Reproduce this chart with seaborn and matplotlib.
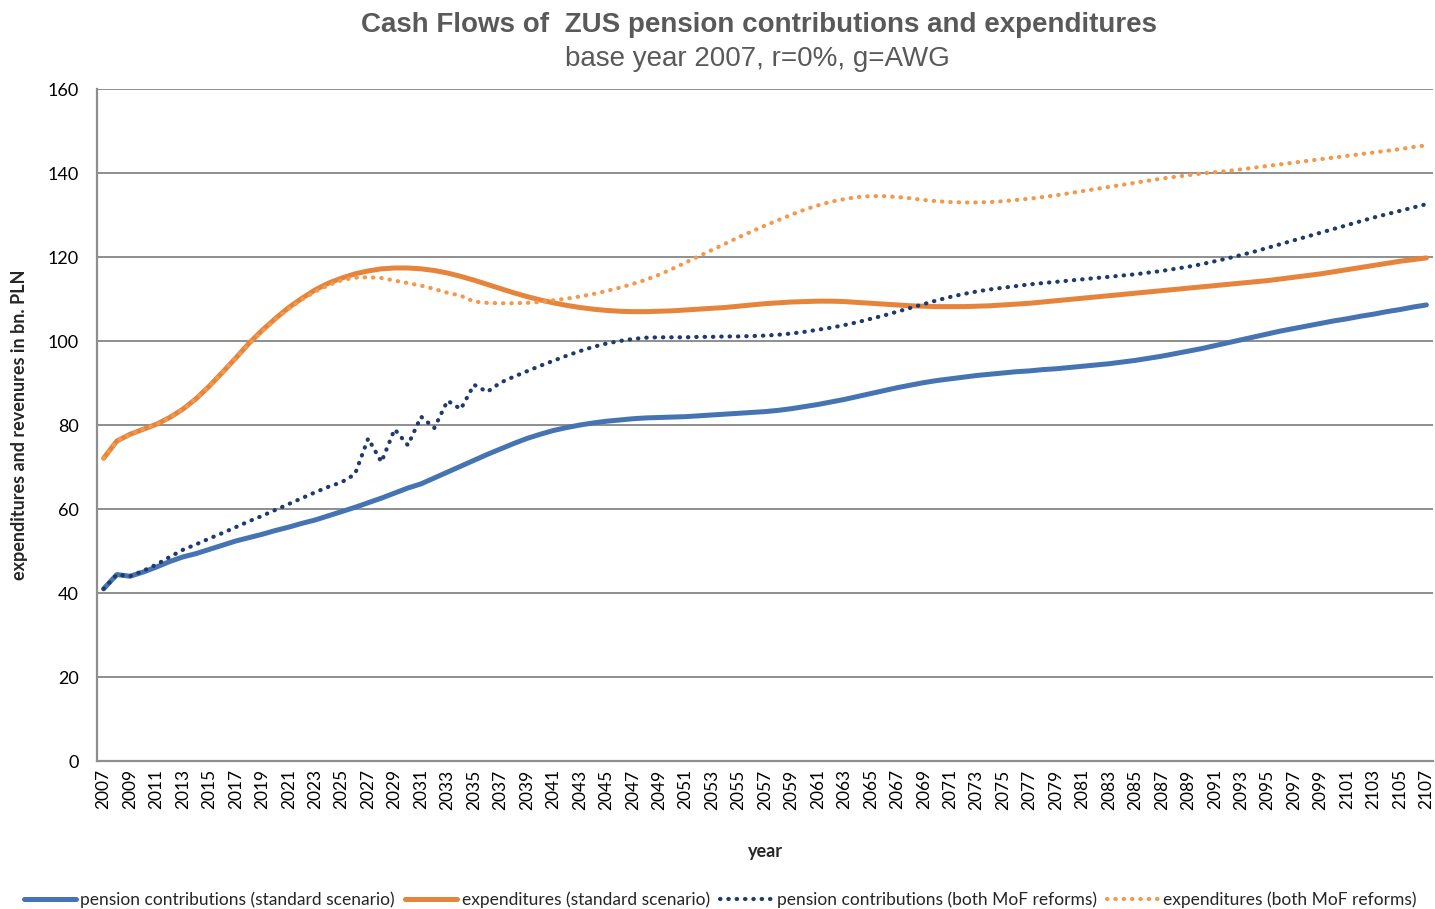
import numpy as np
import pandas as pd
import matplotlib
matplotlib.use('Agg')
import matplotlib.pyplot as plt
import seaborn as sns

sns.set_style('white')
plt.rcParams['font.family'] = ['Lato', 'DejaVu Sans']

years = np.arange(2007, 2108)

# pension contributions, standard scenario
contrib_std = [
    41.0, 44.4, 44.0, 45.0, 46.2, 47.5, 48.6, 49.4, 50.4, 51.4,
    52.4, 53.2, 54.0, 54.9, 55.7, 56.6, 57.4, 58.4, 59.4, 60.4,
    61.5, 62.6, 63.8, 65.0, 66.0, 67.4, 68.8, 70.2, 71.6, 73.0,
    74.3, 75.6, 76.8, 77.8, 78.7, 79.4, 80.0, 80.5, 80.9, 81.2,
    81.5, 81.7, 81.8, 81.9, 82.0, 82.2, 82.4, 82.6, 82.8, 83.0,
    83.2, 83.5, 83.9, 84.4, 84.9, 85.5, 86.1, 86.8, 87.5, 88.2,
    88.9, 89.5, 90.1, 90.6, 91.0, 91.4, 91.8, 92.1, 92.4, 92.7,
    92.9, 93.2, 93.4, 93.7, 94.0, 94.3, 94.6, 95.0, 95.4, 95.9,
    96.4, 97.0, 97.6, 98.2, 98.9, 99.6, 100.3, 101.0, 101.7, 102.4,
    103.0, 103.6, 104.2, 104.8, 105.3, 105.9, 106.4, 107.0, 107.5, 108.1,
    108.6,
]

# expenditures, standard scenario
expend_std = [
    72.1, 76.2, 77.8, 79.0, 80.2, 81.8, 83.8, 86.3, 89.3, 92.6,
    96.0, 99.5, 102.6, 105.4, 108.0, 110.2, 112.2, 113.8, 115.0, 116.0,
    116.7, 117.2, 117.4, 117.4, 117.2, 116.8, 116.2, 115.4, 114.5, 113.5,
    112.5, 111.5, 110.6, 109.8, 109.1, 108.5, 108.0, 107.6, 107.3, 107.1,
    107.0, 107.0, 107.1, 107.2, 107.4, 107.6, 107.8, 108.0, 108.3, 108.6,
    108.9, 109.1, 109.3, 109.4, 109.5, 109.5, 109.4, 109.2, 109.0, 108.8,
    108.6, 108.4, 108.3, 108.2, 108.2, 108.2, 108.3, 108.4, 108.6, 108.8,
    109.0, 109.3, 109.6, 109.9, 110.2, 110.5, 110.8, 111.1, 111.4, 111.7,
    112.0, 112.3, 112.6, 112.9, 113.2, 113.5, 113.8, 114.1, 114.4, 114.8,
    115.2, 115.6, 116.0, 116.5, 117.0, 117.5, 118.0, 118.5, 119.0, 119.4,
    119.8,
]

# pension contributions, both MoF reforms
contrib_mof = [
    41.0, 44.4, 44.0, 45.3, 46.8, 48.6, 50.3, 51.6, 53.0, 54.3,
    55.7, 57.1, 58.4, 59.8, 61.2, 62.6, 64.0, 65.3, 66.4, 68.3,
    76.8, 71.2, 79.0, 75.2, 82.0, 79.3, 85.8, 83.8, 89.6, 87.9,
    90.1, 91.5, 92.8, 94.1, 95.3, 96.5, 97.6, 98.6, 99.4, 100.0,
    100.5, 100.8, 100.9, 100.9, 100.9, 101.0, 101.0, 101.1, 101.1, 101.2,
    101.3, 101.5, 101.8, 102.2, 102.7, 103.2, 103.8, 104.5, 105.3, 106.1,
    107.0, 107.9, 108.8, 109.7, 110.5, 111.2, 111.8, 112.3, 112.7, 113.1,
    113.5, 113.8, 114.1, 114.4, 114.7, 115.0, 115.3, 115.6, 115.9, 116.3,
    116.7, 117.2, 117.7, 118.3, 119.0, 119.7, 120.5, 121.3, 122.2, 123.1,
    124.0, 124.9, 125.8, 126.7, 127.6, 128.5, 129.4, 130.2, 131.0, 131.8,
    132.6,
]

# expenditures, both MoF reforms
expend_mof = [
    72.1, 76.2, 77.8, 79.0, 80.2, 81.8, 83.8, 86.3, 89.3, 92.6,
    96.0, 99.3, 102.4, 105.2, 107.7, 109.9, 111.8, 113.3, 114.5, 115.1,
    115.2, 115.0, 114.4, 113.8, 113.2, 112.4, 111.5, 110.8, 109.4, 109.1,
    109.0, 109.0, 109.1, 109.3, 109.7, 110.1, 110.6, 111.2, 111.9, 112.7,
    113.6, 114.6, 115.8, 117.2, 118.7, 120.2, 121.7, 123.2, 124.7, 126.1,
    127.5, 128.8, 130.1, 131.3, 132.3, 133.2, 133.8, 134.3, 134.5, 134.5,
    134.3, 134.0, 133.6, 133.3, 133.1, 133.0, 133.0, 133.1, 133.3, 133.6,
    133.9, 134.3, 134.7, 135.2, 135.7, 136.2, 136.7, 137.2, 137.7, 138.2,
    138.7, 139.1, 139.5, 139.9, 140.2, 140.5, 140.9, 141.3, 141.7, 142.1,
    142.5, 142.9, 143.3, 143.7, 144.1, 144.5, 144.9, 145.3, 145.7, 146.2,
    146.6,
]

df = pd.DataFrame({
    'year': years,
    'contrib_std': contrib_std,
    'expend_std': expend_std,
    'contrib_mof': contrib_mof,
    'expend_mof': expend_mof,
})

GRID = '#8e8e8e'
TXT = '#595959'
DOTS = (0, (0.1, 1.9))

fig = plt.figure(figsize=(14.35, 9.09), dpi=100)
ax = fig.add_axes([0.0676, 0.1628, 0.9310, 0.7392])

series = [
    ('contrib_std', 'pension contributions (standard scenario)', '#4674b3', '-', 3.6),
    ('expend_std', 'expenditures (standard scenario)', '#e5843a', '-', 3.6),
    ('contrib_mof', 'pension contributions (both MoF reforms)', '#1f3a6d', DOTS, 3.0),
    ('expend_mof', 'expenditures (both MoF reforms)', '#f2994c', DOTS, 3.0),
]
for col, label, color, ls, lw in series:
    sns.lineplot(data=df, x='year', y=col, ax=ax, color=color,
                 linestyle=ls, linewidth=lw, label=label,
                 solid_capstyle='round', dash_capstyle='round')

ax.set_xlim(2006.55, 2107.45)
ax.set_ylim(0, 160)
ax.set_yticks(np.arange(0, 161, 20))
ax.yaxis.grid(True, color=GRID, linewidth=1.4)
ax.xaxis.grid(False)
ax.tick_params(axis='y', length=5, width=1.2, color=GRID, labelsize=13,
               pad=8, labelcolor='black')

# year ticks between categories, labels on every second year
ax.set_xticks(np.arange(2006.5, 2108, 1))
ax.set_xticklabels([])
ax.tick_params(axis='x', which='major', length=5, width=1.2, color=GRID)
ax.set_xticks(years[::2], minor=True)
ax.set_xticklabels([str(y) for y in years[::2]], minor=True, rotation=90)
ax.tick_params(axis='x', which='minor', length=0, labelsize=12.5, pad=6,
               labelcolor='black')

for s in ['top', 'right']:
    ax.spines[s].set_visible(False)
for s in ['left', 'bottom']:
    ax.spines[s].set_color(GRID)
    ax.spines[s].set_linewidth(1.6)

ax.set_xlabel('year', fontsize=13, fontweight='bold', labelpad=24)
ax.set_ylabel('expenditures and revenures in bn. PLN', fontsize=13,
              fontweight='bold', labelpad=14)

ax.get_legend().remove()
handles, labels = ax.get_legend_handles_labels()
fig.legend(handles, labels, loc='center', bbox_to_anchor=(0.502, 0.010),
           ncol=4, frameon=False, fontsize=12.5, handlelength=3.0,
           handletextpad=0.25, columnspacing=0.6)

fig.text(0.529, 0.9725, 'Cash Flows of  ZUS pension contributions and expenditures',
         ha='center', va='center', fontsize=20, fontweight='bold', color=TXT,
         family=['Liberation Sans Narrow', 'Liberation Sans'])
fig.text(0.528, 0.9355, 'base year 2007, r=0%, g=AWG',
         ha='center', va='center', fontsize=20, color=TXT,
         family=['Liberation Sans Narrow', 'Liberation Sans'])

fig.savefig('out.png', dpi=100)
